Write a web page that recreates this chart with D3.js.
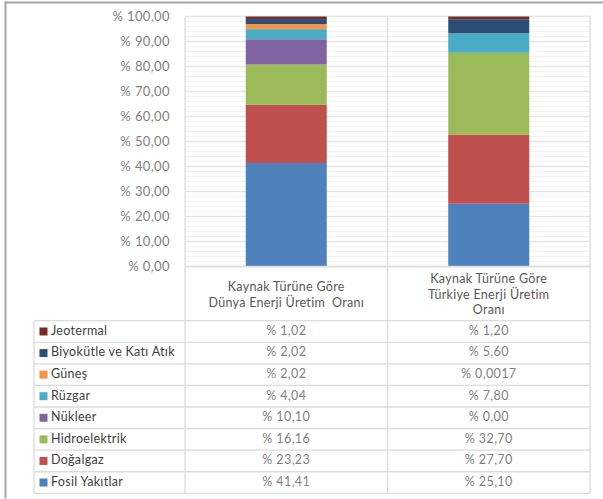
<!DOCTYPE html>
<html>
<head>
<meta charset="utf-8">
<script src="https://cdn.jsdelivr.net/npm/d3@7"></script>
<style>
  body { margin: 0; background: #fff; }
  svg { display: block; font-family: Lato, "Open Sans", sans-serif; }
</style>
</head>
<body>
<svg id="chart" width="603" height="499"></svg>
<script>
// data
var columns = ["dunya", "turkiye"];
var columnTitles = [
  ["Kaynak Türüne Göre", "Dünya Enerji Üretim  Oranı"],
  ["Kaynak Türüne Göre", "Türkiye Enerji Üretim", "Oranı"]
];
// stack order, bottom to top
var sources = ["Fosil Yakıtlar", "Doğalgaz", "Hidroelektrik", "Nükleer", "Rüzgar", "Güneş", "Biyokütle ve Katı Atık", "Jeotermal"];
var dunyaValues = [41.41, 23.23, 16.16, 10.10, 4.04, 2.02, 2.02, 1.02];
var turkiyeValues = [25.10, 27.70, 32.70, 0.00, 7.80, 0.0017, 5.60, 1.20];
var dunyaLabels = ["% 41,41", "% 23,23", "% 16,16", "% 10,10", "% 4,04", "% 2,02", "% 2,02", "% 1,02"];
var turkiyeLabels = ["% 25,10", "% 27,70", "% 32,70", "% 0,00", "% 7,80", "% 0,0017", "% 5,60", "% 1,20"];
var colors = ["#4F81BD", "#C0504D", "#9BBB59", "#8064A2", "#4BACC6", "#F79646", "#2C4D75", "#772C2A"];
var yTicks = [0, 10, 20, 30, 40, 50, 60, 70, 80, 90, 100];

window.addEventListener("load", function(){
  var svg = d3.select("#chart");

  var left = 185, right = 590, top = 16.5, bottom = 266.5;
  var tableTop = 320.7, tableBottom = 493.3, tableLeft = 34;

  var y = d3.scaleLinear().domain([0, 100]).range([bottom, top]);
  var x = d3.scaleBand().domain(columns).range([left, right]).padding(0);
  var barW = x.bandwidth() * 0.4;

  var color = d3.scaleOrdinal().domain(sources).range(colors);

  // frame
  svg.append("rect").attr("x", 4.5).attr("y", 1.5).attr("width", 2).attr("height", 497).attr("fill", "#a6a6a6");
  svg.append("rect").attr("x", 4.5).attr("y", 1.5).attr("width", 600).attr("height", 2).attr("fill", "#a6a6a6");

  // minor gridlines
  svg.append("g").selectAll("line")
    .data(d3.range(0, 101, 2))
    .enter().append("line")
    .attr("x1", left).attr("x2", right)
    .attr("y1", function(d){ return y(d); })
    .attr("y2", function(d){ return y(d); })
    .attr("stroke", "#f3f3f3").attr("stroke-width", 1);

  // major gridlines
  svg.append("g").selectAll("line")
    .data(yTicks)
    .enter().append("line")
    .attr("x1", left).attr("x2", right)
    .attr("y1", function(d){ return y(d); })
    .attr("y2", function(d){ return y(d); })
    .attr("stroke", "#e6e6e6").attr("stroke-width", 1.3);

  // y axis labels
  var yAxis = d3.axisLeft(y).tickValues(yTicks).tickSize(0).tickPadding(15)
    .tickFormat(function(d){ return "% " + d3.format(".2f")(d).replace(".", ","); });
  var ya = svg.append("g").attr("transform", "translate(" + left + ",0)").call(yAxis);
  ya.select(".domain").remove();
  ya.selectAll("text")
    .attr("fill", "#7f7f7f")
    .style("font-size", "13px")
    .style("font-family", "Lato, sans-serif")
    .style("letter-spacing", "0.4px");

  // stacked bars
  var rows = sources.map(function(s, i){
    return { key: s, dunya: dunyaValues[i], turkiye: turkiyeValues[i] };
  });
  var byColumn = columns.map(function(c){
    var o = { col: c };
    rows.forEach(function(r){ o[r.key] = r[c]; });
    return o;
  });
  var stack = d3.stack().keys(sources);
  var series = stack(byColumn);

  svg.append("g").selectAll("g")
    .data(series)
    .enter().append("g")
    .attr("fill", function(d){ return color(d.key); })
    .selectAll("rect")
    .data(function(d){ return d; })
    .enter().append("rect")
    .attr("x", function(d){ return x(d.data.col) + (x.bandwidth() - barW) / 2; })
    .attr("y", function(d){ return y(Math.min(d[1], 100)); })
    .attr("width", barW)
    .attr("height", function(d){ return Math.max(0, y(d[0]) - y(Math.min(d[1], 100))); });

  // vertical grid / table lines
  var vlines = [left, x("turkiye"), right];
  svg.append("g").selectAll("line")
    .data(vlines)
    .enter().append("line")
    .attr("x1", function(d){ return d; }).attr("x2", function(d){ return d; })
    .attr("y1", top).attr("y2", tableBottom)
    .attr("stroke", "#dcdcdc").attr("stroke-width", 1.3);

  // axis line at 0
  svg.append("line")
    .attr("x1", left).attr("x2", right)
    .attr("y1", bottom).attr("y2", bottom)
    .attr("stroke", "#dcdcdc").attr("stroke-width", 1.3);

  // column titles
  columns.forEach(function(c, i){
    var lines = columnTitles[i];
    var cy = (bottom + tableTop) / 2 + 1;
    var lh = 15.5;
    svg.append("g").selectAll("text")
      .data(lines)
      .enter().append("text")
      .attr("x", x(c) + x.bandwidth() / 2)
      .attr("y", function(d, j){ return cy + (j - (lines.length - 1) / 2) * lh; })
      .attr("dy", "0.35em")
      .attr("text-anchor", "middle")
      .attr("fill", "#595959")
      .style("font-size", "12.5px")
      .style("letter-spacing", "0.3px")
      .style("white-space", "pre")
      .text(function(d){ return d; });
  });

  // data table
  var tableOrder = sources.slice().reverse();
  var r = d3.scaleBand().domain(tableOrder).range([tableTop, tableBottom]);

  // row lines
  svg.append("g").selectAll("line")
    .data(tableOrder.concat(["end"]))
    .enter().append("line")
    .attr("x1", tableLeft).attr("x2", right)
    .attr("y1", function(d, i){ return tableTop + i * r.bandwidth(); })
    .attr("y2", function(d, i){ return tableTop + i * r.bandwidth(); })
    .attr("stroke", "#dcdcdc").attr("stroke-width", 1.3);
  svg.append("line")
    .attr("x1", tableLeft).attr("x2", tableLeft)
    .attr("y1", tableTop).attr("y2", tableBottom)
    .attr("stroke", "#dcdcdc").attr("stroke-width", 1.3);

  var tr = svg.append("g").selectAll("g")
    .data(tableOrder)
    .enter().append("g")
    .attr("transform", function(d){ return "translate(0," + (r(d) + r.bandwidth() / 2) + ")"; });

  tr.append("rect")
    .attr("x", 39.5).attr("y", -4).attr("width", 8).attr("height", 8)
    .attr("fill", function(d){ return color(d); });

  tr.append("text")
    .attr("x", 51).attr("y", -1).attr("dy", "0.35em")
    .attr("fill", "#404040")
    .style("font-size", "12.5px")
    .style("letter-spacing", "0.3px")
    .text(function(d){ return d; });

  tr.append("text")
    .attr("x", x("dunya") + x.bandwidth() / 2).attr("y", -1).attr("dy", "0.35em")
    .attr("text-anchor", "middle")
    .attr("fill", "#7f7f7f")
    .style("font-size", "12.5px")
    .style("letter-spacing", "0.4px")
    .text(function(d){ return dunyaLabels[sources.indexOf(d)]; });

  tr.append("text")
    .attr("x", x("turkiye") + x.bandwidth() / 2).attr("y", -1).attr("dy", "0.35em")
    .attr("text-anchor", "middle")
    .attr("fill", "#7f7f7f")
    .style("font-size", "12.5px")
    .style("letter-spacing", "0.4px")
    .text(function(d){ return turkiyeLabels[sources.indexOf(d)]; });
}, false);
</script>
</body>
</html>
